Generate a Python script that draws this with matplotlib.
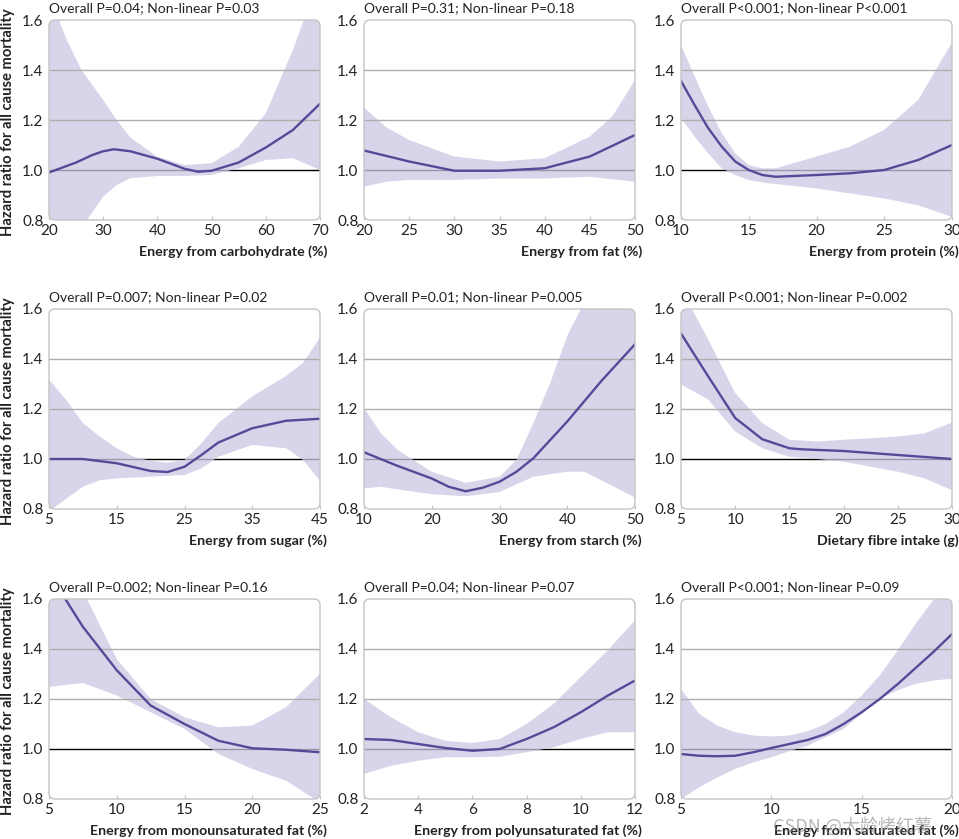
import matplotlib
matplotlib.use("Agg")
import matplotlib.pyplot as plt
from matplotlib.patches import FancyBboxPatch

plt.rcParams['font.family'] = ['Lato', 'DejaVu Sans']

# --- data (x, hazard ratio, lower CI, upper CI) ---
carb_x   = [20, 25, 28, 30, 32, 35, 40, 45, 47.5, 50, 55, 60, 65, 70]
carb_hr  = [0.99, 1.03, 1.06, 1.075, 1.083, 1.075, 1.045, 1.005, 0.993, 0.997, 1.03, 1.09, 1.16, 1.265]
carb_lox = [20, 24, 27, 30, 32.5, 35, 40, 45, 50, 55, 60, 65, 70]
carb_lo  = [0.62, 0.72, 0.80, 0.893, 0.94, 0.967, 0.976, 0.976, 0.98, 1.007, 1.04, 1.047, 1.0]
carb_upx = [20, 23.3, 26, 30, 32.5, 35, 40, 45, 50, 55, 60, 65, 67, 70]
carb_up  = [1.70, 1.52, 1.40, 1.28, 1.20, 1.13, 1.053, 1.02, 1.027, 1.093, 1.227, 1.48, 1.60, 1.78]

fat_x   = [20, 25, 30, 35, 40, 45, 50]
fat_hr  = [1.078, 1.034, 0.997, 0.997, 1.007, 1.054, 1.14]
fat_lox = [20, 22.5, 25, 30, 35, 40, 45, 50]
fat_lo  = [0.933, 0.953, 0.96, 0.96, 0.966, 0.966, 0.973, 0.953]
fat_upx = [20, 22.5, 25, 30, 35, 40, 45, 47.5, 50]
fat_up  = [1.25, 1.17, 1.12, 1.054, 1.034, 1.047, 1.134, 1.215, 1.36]

prot_x   = [10, 11, 12, 13, 14, 15, 16, 17, 20, 22.5, 25, 27.5, 30]
prot_hr  = [1.356, 1.26, 1.168, 1.094, 1.034, 1.0, 0.98, 0.973, 0.98, 0.987, 1.0, 1.04, 1.10]
prot_lox = [10, 11, 12, 13, 14, 15, 16, 17, 20, 22.5, 25, 27.5, 30]
prot_lo  = [1.208, 1.134, 1.067, 1.007, 0.98, 0.96, 0.95, 0.944, 0.926, 0.906, 0.886, 0.859, 0.812]
prot_upx = [10, 11, 12, 13, 14, 15, 16, 17, 20, 22.5, 25, 27.5, 30]
prot_up  = [1.50, 1.376, 1.255, 1.148, 1.067, 1.02, 1.007, 1.007, 1.054, 1.094, 1.161, 1.28, 1.51]

sug_x   = [5, 10, 15, 20, 22.5, 25, 27.5, 30, 35, 40, 45]
sug_hr  = [1.0, 1.0, 0.983, 0.952, 0.948, 0.969, 1.016, 1.066, 1.123, 1.153, 1.161]
sug_lox = [5, 7.5, 10, 12.5, 15, 20, 25, 27.5, 30, 35, 40, 42.5, 45]
sug_lo  = [0.79, 0.84, 0.889, 0.915, 0.922, 0.929, 0.936, 0.962, 1.009, 1.056, 1.043, 0.996, 0.913]
sug_upx = [5, 7.5, 10, 12.5, 15, 17.5, 20, 22.5, 25, 27.5, 30, 35, 40, 42.5, 45]
sug_up  = [1.318, 1.238, 1.144, 1.09, 1.043, 1.009, 0.993, 0.985, 0.996, 1.063, 1.144, 1.251, 1.332, 1.385, 1.486]

sta_x   = [10, 15, 20, 22.5, 25, 27.5, 30, 32.5, 35, 40, 45, 50]
sta_hr  = [1.027, 0.972, 0.922, 0.889, 0.871, 0.885, 0.909, 0.949, 1.003, 1.15, 1.311, 1.459]
sta_lox = [10, 12.5, 15, 20, 25, 30, 35, 40, 42.5, 45, 50]
sta_lo  = [0.882, 0.889, 0.878, 0.859, 0.851, 0.868, 0.929, 0.949, 0.949, 0.915, 0.846]
sta_upx = [10, 12.5, 15, 20, 25, 30, 32.5, 35, 37.5, 40, 42, 45, 50]
sta_up  = [1.204, 1.103, 1.036, 0.949, 0.905, 0.929, 0.996, 1.144, 1.305, 1.493, 1.60, 1.80, 2.2]

fib_x   = [5, 7.5, 10, 12.5, 15, 16, 20, 25, 30]
fib_hr  = [1.502, 1.331, 1.164, 1.079, 1.043, 1.039, 1.032, 1.016, 1.0]
fib_lox = [5, 7.5, 10, 12.5, 15, 17.5, 20, 25, 27.5, 30]
fib_lo  = [1.298, 1.238, 1.11, 1.043, 1.009, 1.0, 0.989, 0.949, 0.922, 0.875]
fib_upx = [5, 6, 7.5, 10, 12.5, 15, 17.5, 20, 25, 27.5, 30]
fib_up  = [1.66, 1.60, 1.479, 1.264, 1.144, 1.077, 1.07, 1.077, 1.09, 1.103, 1.146]

mufa_x   = [5, 6.2, 7.5, 10, 12.5, 15, 17.5, 20, 22.5, 25]
mufa_hr  = [1.71, 1.6, 1.489, 1.315, 1.174, 1.10, 1.033, 1.003, 0.997, 0.987]
mufa_lox = [5, 7.5, 10, 12.5, 15, 17.5, 20, 22.5, 25]
mufa_lo  = [1.248, 1.264, 1.214, 1.147, 1.08, 0.98, 0.92, 0.873, 0.786]
mufa_upx = [5, 7.5, 7.8, 10, 12.5, 15, 17.5, 20, 22.5, 25]
mufa_up  = [1.85, 1.63, 1.60, 1.36, 1.20, 1.127, 1.087, 1.094, 1.167, 1.301]

pufa_x   = [2, 3, 4, 5, 6, 7, 8, 9, 10, 11, 12]
pufa_hr  = [1.04, 1.036, 1.02, 1.004, 0.993, 1.0, 1.04, 1.087, 1.147, 1.214, 1.274]
pufa_lox = [2, 3, 4, 5, 6, 7, 8, 9, 10, 11, 12]
pufa_lo  = [0.90, 0.933, 0.953, 0.967, 0.967, 0.969, 0.987, 1.007, 1.04, 1.067, 1.067]
pufa_upx = [2, 3, 4, 5, 6, 7, 8, 9, 10, 11, 12]
pufa_up  = [1.20, 1.127, 1.067, 1.033, 1.024, 1.04, 1.10, 1.181, 1.288, 1.395, 1.515]

sfa_x   = [5, 6, 7, 8, 9, 10, 11, 12, 13, 14, 15, 16, 17, 18, 19, 20]
sfa_hr  = [0.98, 0.973, 0.971, 0.973, 0.987, 1.004, 1.02, 1.036, 1.06, 1.10, 1.147, 1.20, 1.26, 1.325, 1.39, 1.46]
sfa_lox = [5, 6, 7, 8, 9, 10, 11, 12, 13, 14, 15, 16, 17, 18, 19, 20]
sfa_lo  = [0.80, 0.846, 0.886, 0.92, 0.946, 0.967, 0.991, 1.013, 1.047, 1.08, 1.141, 1.201, 1.235, 1.261, 1.274, 1.281]
sfa_upx = [5, 6, 7, 8, 9, 10, 11, 12, 13, 14, 15, 16, 17, 18, 19, 20]
sfa_up  = [1.241, 1.141, 1.094, 1.067, 1.054, 1.05, 1.054, 1.071, 1.10, 1.147, 1.214, 1.295, 1.395, 1.502, 1.60, 1.70]

titles = ["Overall P=0.04; Non-linear P=0.03", "Overall P=0.31; Non-linear P=0.18",
          "Overall P<0.001; Non-linear P<0.001", "Overall P=0.007; Non-linear P=0.02",
          "Overall P=0.01; Non-linear P=0.005", "Overall P<0.001; Non-linear P=0.002",
          "Overall P=0.002; Non-linear P=0.16", "Overall P=0.04; Non-linear P=0.07",
          "Overall P<0.001; Non-linear P=0.09"]
xlabels = ["Energy from carbohydrate (%)", "Energy from fat (%)", "Energy from protein (%)",
           "Energy from sugar (%)", "Energy from starch (%)", "Dietary fibre intake (g)",
           "Energy from monounsaturated fat (%)", "Energy from polyunsaturated fat (%)",
           "Energy from saturated fat (%)"]
xlims = [(20, 70), (20, 50), (10, 30), (5, 45), (10, 50), (5, 30), (5, 25), (2, 12), (5, 20)]
xticks = [[20, 30, 40, 50, 60, 70], [20, 25, 30, 35, 40, 45, 50], [10, 15, 20, 25, 30],
          [5, 15, 25, 35, 45], [10, 20, 30, 40, 50], [5, 10, 15, 20, 25, 30],
          [5, 10, 15, 20, 25], [2, 4, 6, 8, 10, 12], [5, 10, 15, 20]]
yticks = [0.8, 1.0, 1.2, 1.4, 1.6]

series = [(carb_x, carb_hr, carb_lox, carb_lo, carb_upx, carb_up),
          (fat_x, fat_hr, fat_lox, fat_lo, fat_upx, fat_up),
          (prot_x, prot_hr, prot_lox, prot_lo, prot_upx, prot_up),
          (sug_x, sug_hr, sug_lox, sug_lo, sug_upx, sug_up),
          (sta_x, sta_hr, sta_lox, sta_lo, sta_upx, sta_up),
          (fib_x, fib_hr, fib_lox, fib_lo, fib_upx, fib_up),
          (mufa_x, mufa_hr, mufa_lox, mufa_lo, mufa_upx, mufa_up),
          (pufa_x, pufa_hr, pufa_lox, pufa_lo, pufa_upx, pufa_up),
          (sfa_x, sfa_hr, sfa_lox, sfa_lo, sfa_upx, sfa_up)]

LINE = '#564a98'
BAND = '#ccc8e4'
GRID = '#aeaeae'
EDGE = '#c4c4c4'
TXT = '#222222'

W, H = 959, 839
fig = plt.figure(figsize=(W / 100, H / 100), dpi=100)

col_left = [49, 364, 681]
row_top = [20, 309, 599]
aw, ah = 271, 200

for i, (x, hr, lox, lo, upx, up) in enumerate(series):
    r, c = divmod(i, 3)
    ax = fig.add_axes([col_left[c] / W, 1 - (row_top[r] + ah) / H, aw / W, ah / H])
    ax.set_xlim(*xlims[i])
    ax.set_ylim(0.8, 1.6)
    for s in ax.spines.values():
        s.set_visible(False)

    box = FancyBboxPatch((0, 0), 1, 1, boxstyle="round,pad=0,rounding_size=0.022",
                         mutation_aspect=aw / ah, transform=ax.transAxes,
                         facecolor='none', edgecolor=EDGE, lw=1.0, zorder=5, clip_on=False)
    ax.add_patch(box)

    ax.axhline(1.0, color='black', lw=1.0, zorder=0.5)
    # band: lower edge then upper edge reversed
    poly_x = list(lox) + list(upx)[::-1]
    poly_y = list(lo) + list(up)[::-1]
    band = ax.fill(poly_x, poly_y, color=BAND, alpha=0.75, lw=0, zorder=1)[0]
    band.set_clip_path(box)
    for g in (1.2, 1.4):
        ax.axhline(g, color=GRID, lw=1.0, zorder=2)
    ln, = ax.plot(x, hr, color=LINE, lw=1.7, zorder=3, solid_joinstyle='round')
    ln.set_clip_path(box)

    ax.set_xticks(xticks[i])
    ax.set_yticks(yticks)
    ax.set_yticklabels(['%.1f' % v for v in yticks])
    ax.tick_params(axis='x', direction='in', length=3, width=0.8, color=EDGE,
                   labelsize=11, pad=3, labelcolor=TXT)
    ax.tick_params(axis='y', length=0, labelsize=11, pad=4, labelcolor=TXT)

    ax.text(0, 1.06, titles[i], transform=ax.transAxes, ha='left', va='center',
            fontsize=10, color=TXT)
    ax.text(1.026, -0.16, xlabels[i], transform=ax.transAxes, ha='right', va='center',
            fontsize=10.2, fontweight='bold', color=TXT)

    if c == 0:
        yc = 1 - (row_top[r] + ah / 2 + 2) / H
        fig.text(8 / W, yc, "Hazard ratio for all cause mortality", rotation=90,
                 ha='center', va='center', fontsize=10.6, fontweight='bold', color=TXT)

fig.text(852 / W, 1 - 826 / H, "CSDN @大龄烤红薯", ha='center', va='center', fontsize=13,
         color='#888888', alpha=0.6, family=['Noto Sans CJK SC', 'DejaVu Sans'])

fig.savefig('out.png', dpi=100)
